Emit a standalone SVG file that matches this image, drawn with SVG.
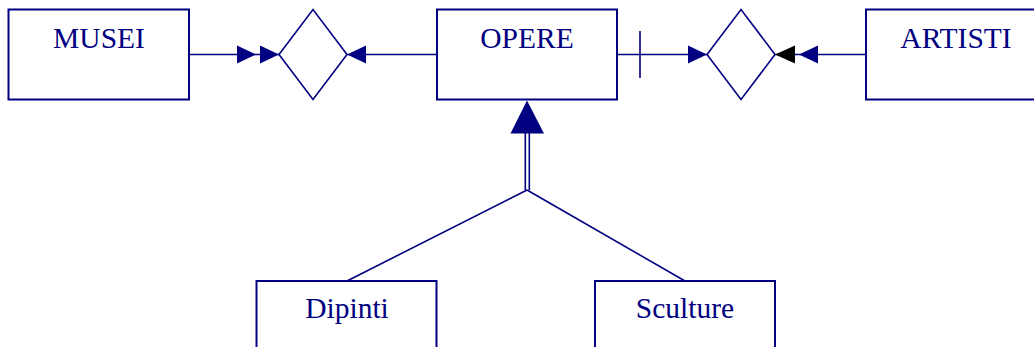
<svg xmlns="http://www.w3.org/2000/svg" width="1034" height="347" viewBox="0 0 1034 347">
  <style>
    .box { fill: #ffffff; stroke: #000080; stroke-width: 2; }
    .rel { fill: #ffffff; stroke: #000080; stroke-width: 1.6; }
    .line { fill: none; stroke: #000080; stroke-width: 1.6; }
    .head { fill: #000080; stroke: none; }
    .head-black { fill: #000000; stroke: none; }
    .label { font-family: "Liberation Serif", "Times New Roman", serif; font-size: 29.5px; fill: #000080; text-anchor: middle; }
  </style>
  <rect width="1034" height="347" fill="#ffffff"/>

  <!-- connectors -->
  <g id="connectors">
    <!-- MUSEI to relationship 1: double arrow -->
    <line class="line" x1="189" y1="54.5" x2="279" y2="54.5"/>
    <polygon class="head" points="256,54.5 237,45.5 237,63.5"/>
    <polygon class="head" points="279,54.5 260,45.5 260,63.5"/>
    <!-- OPERE to relationship 1 -->
    <line class="line" x1="437" y1="54.5" x2="347" y2="54.5"/>
    <polygon class="head" points="347,54.5 366,45.5 366,63.5"/>
    <!-- OPERE to relationship 2, with tick -->
    <line class="line" x1="617" y1="54.5" x2="707" y2="54.5"/>
    <line class="line" x1="640" y1="31" x2="640" y2="78"/>
    <polygon class="head" points="707,54.5 688,45.5 688,63.5"/>
    <!-- ARTISTI to relationship 2 -->
    <line class="line" x1="866" y1="54.5" x2="775" y2="54.5"/>
    <polygon class="head-black" points="775,54.5 795,45.5 795,63.5"/>
    <polygon class="head" points="799,54.5 818,45.5 818,63.5"/>
    <!-- generalisation -->
    <polygon class="head" points="527,100.5 510.5,133.5 544,133.5"/>
    <line class="line" x1="525.3" y1="133" x2="525.3" y2="190"/>
    <line class="line" x1="529.3" y1="133" x2="529.3" y2="190"/>
    <line class="line" x1="527" y1="190" x2="347" y2="281"/>
    <line class="line" x1="527" y1="190" x2="685" y2="281"/>
  </g>

  <g id="rel-musei-opere">
    <polygon class="rel" points="279,54.5 313,9.5 347,54.5 313,99.5"/>
  </g>
  <g id="rel-opere-artisti">
    <polygon class="rel" points="707,54.5 741,9.5 775,54.5 741,99.5"/>
  </g>

  <g id="musei">
    <rect class="box" x="8.5" y="9.5" width="180.5" height="90"/>
    <text class="label" x="99" y="47.7">MUSEI</text>
  </g>
  <g id="opere">
    <rect class="box" x="437" y="9.5" width="180" height="90"/>
    <text class="label" x="527" y="47.7">OPERE</text>
  </g>
  <g id="artisti">
    <rect class="box" x="866" y="9.5" width="180" height="90"/>
    <text class="label" x="956" y="47.7">ARTISTI</text>
  </g>
  <g id="dipinti">
    <rect class="box" x="256.5" y="281" width="180" height="90"/>
    <text class="label" x="347" y="318.3">Dipinti</text>
  </g>
  <g id="sculture">
    <rect class="box" x="595" y="281" width="180" height="90"/>
    <text class="label" x="685" y="318.3">Sculture</text>
  </g>
</svg>
